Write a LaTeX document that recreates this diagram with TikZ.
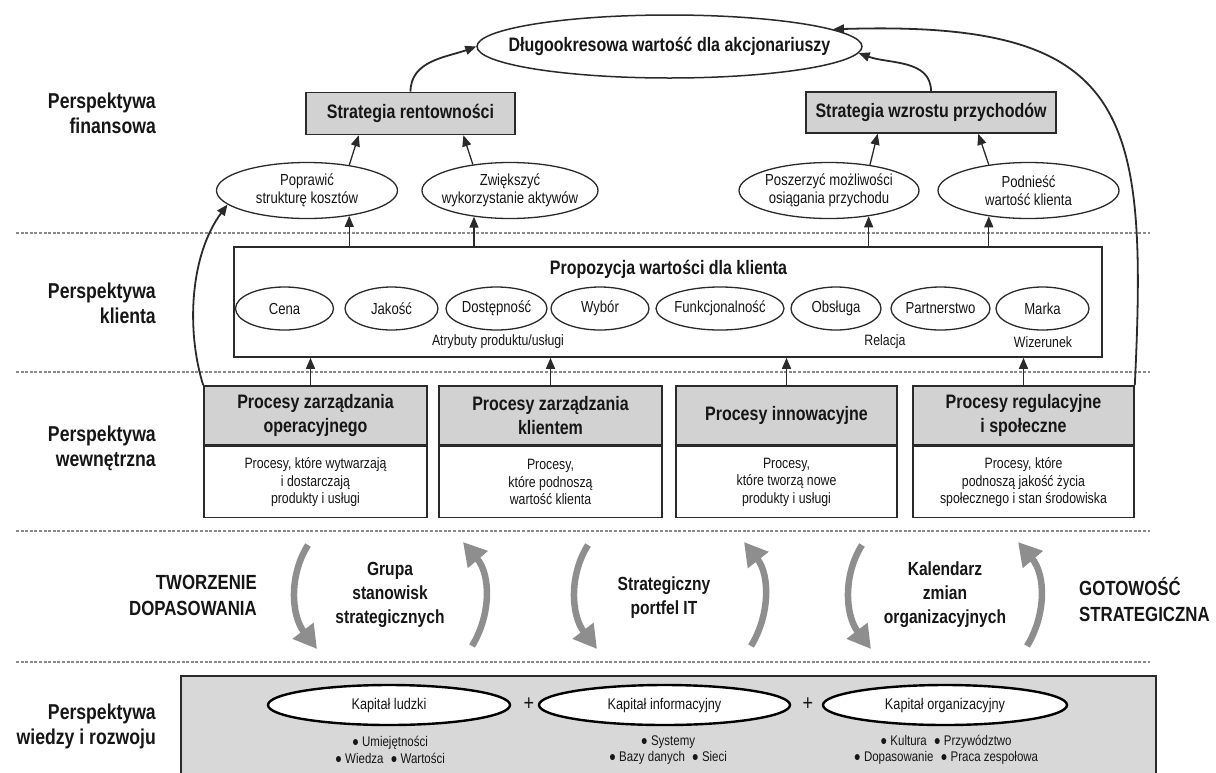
\documentclass[tikz,border=0pt]{standalone}
\usepackage{fontspec}
\setmainfont{Liberation Sans}[FakeStretch=0.82]
\usetikzlibrary{shapes.geometric,arrows.meta,calc}
\definecolor{ink}{HTML}{161616}
\definecolor{edge}{HTML}{2A2A2A}
\definecolor{boxgray}{HTML}{D2D2D2}
\definecolor{basegray}{HTML}{D8D8D8}
\definecolor{flowgray}{HTML}{8E8E8E}
\definecolor{rulegray}{HTML}{8A8A8A}

\begin{document}
\begin{tikzpicture}[x=1pt,y=-1pt, text=ink,
  persp/.style={font=\fontsize{21.5}{25}\selectfont\bfseries, align=right, anchor=east, inner sep=0pt},
  phase/.style={font=\fontsize{20.5}{26}\selectfont\bfseries, inner sep=0pt},
  mid/.style={font=\fontsize{19}{24}\selectfont\bfseries, align=center, inner sep=0pt},
  graybox/.style={draw=edge, fill=boxgray, line width=1.6pt, inner sep=0pt,
    font=\fontsize{19.5}{24}\selectfont\bfseries, align=center},
  plainbox/.style={draw=edge, fill=white, line width=1.6pt, inner sep=0pt,
    font=\fontsize{15}{17.5}\selectfont, align=center},
  oval/.style={ellipse, draw=edge, fill=white, line width=1.3pt, inner xsep=-20pt, inner ysep=-6pt,
    font=\fontsize{16}{18}\selectfont, align=center},
  capital/.style={oval, draw=black, line width=2.4pt, minimum height=40pt, font=\fontsize{15.5}{18}\selectfont},
  note/.style={font=\fontsize{15}{17}\selectfont, align=center, inner sep=0pt},
  bullets/.style={font=\fontsize{14}{16.5}\selectfont, align=center, inner sep=0pt},
  con/.style={draw=edge, line width=1.3pt, -{Triangle[length=11pt,width=9pt]}},
  link/.style={con, line width=1.8pt},
  divider/.style={draw=rulegray, line width=1.3pt, dash pattern=on 3pt off 1.6pt},
  flow/.style={draw=flowgray, line width=6.5pt, -{Triangle[length=23pt,width=25pt]}},
]
\path[use as bounding box, clip] (0,0) rectangle (1216,772);
\fill[white] (0,0) rectangle (1216,772);

% perspective separators
\foreach \yy in {233,372,531,662}
  \draw[divider] (16,\yy) -- (1150,\yy);

% left-hand perspective names
\node[persp] (pfin) at (156,113) {Perspektywa\\finansowa};
\node[persp] (pkl)  at (156,303) {Perspektywa\\klienta};
\node[persp] (pwew) at (156,448) {Perspektywa\\wewnętrzna};
\node[persp] (pwr)  at (156,726) {Perspektywa\\wiedzy i rozwoju};

% financial perspective
\node[oval, inner xsep=-30pt, font=\fontsize{19.5}{22}\selectfont\bfseries,
      minimum width=385pt, minimum height=63pt, line width=1.5pt] (dl) at (669.5,46.5)
      {Długookresowa wartość dla akcjonariuszy};
\node[graybox, minimum width=209pt, minimum height=42pt] (rent) at (410.5,113.5) {Strategia rentowności};
\node[graybox, minimum width=250pt, minimum height=41pt] (rzw) at (931,112.5) {Strategia wzrostu przychodów};

\node[oval, minimum width=181pt, minimum height=56pt] (pop)  at (307,190.5)  {Poprawić\\strukturę kosztów};
\node[oval, minimum width=176pt, minimum height=56pt] (zw)   at (510,190.5)  {Zwiększyć\\wykorzystanie aktywów};
\node[oval, minimum width=180pt, minimum height=56pt] (posz) at (829,190.5)  {Poszerzyć możliwości\\osiągania przychodu};
\node[oval, minimum width=181pt, minimum height=56pt] (podn) at (1028.5,190.5) {Podnieść\\wartość klienta};

% customer perspective
\node[draw=edge, line width=1.6pt, minimum width=868pt, minimum height=110pt, inner sep=0pt] (prop) at (668,302) {};
\node[font=\fontsize{19.5}{22}\selectfont\bfseries, inner sep=0pt] (propt) at (668.5,269) {Propozycja wartości dla klienta};
\node[oval, minimum width=98pt,  minimum height=43pt] (cena)  at (284.5,308.5) {Cena};
\node[oval, minimum width=93pt,  minimum height=43pt] (jak)   at (391.5,308.5) {Jakość};
\node[oval, minimum width=101pt, minimum height=43pt] (dost)  at (496.5,308.5) {Dostępność};
\node[oval, minimum width=98pt,  minimum height=43pt] (wyb)   at (600,308.5)   {Wybór};
\node[oval, minimum width=128pt, minimum height=43pt] (funk)  at (720,308.5)   {Funkcjonalność};
\node[oval, minimum width=90pt,  minimum height=43pt] (obs)   at (836,308.5)   {Obsługa};
\node[oval, minimum width=99pt,  minimum height=43pt] (part)  at (940.5,308.5) {Partnerstwo};
\node[oval, minimum width=93pt,  minimum height=43pt] (marka) at (1042.5,308.5) {Marka};
\node[note] (attr) at (498,342)  {Atrybuty produktu/usługi};
\node[note] (rel)  at (885,342)  {Relacja};
\node[note] (wiz)  at (1043,342) {Wizerunek};

% internal perspective
\node[graybox, minimum width=223pt, minimum height=59pt] (oph) at (315.5,415.5) {Procesy zarządzania\\operacyjnego};
\node[plainbox, minimum width=223pt, minimum height=71pt, anchor=north] (opb) at (oph.south)
  {Procesy, które wytwarzają\\i dostarczają\\produkty i usługi};
\node[graybox, minimum width=223pt, minimum height=59pt] (klh) at (550.5,415.5) {Procesy zarządzania\\klientem};
\node[plainbox, minimum width=223pt, minimum height=71pt, anchor=north] (klb) at (klh.south)
  {Procesy,\\które podnoszą\\wartość klienta};
\node[graybox, minimum width=221pt, minimum height=59pt] (inh) at (786.5,415.5) {Procesy innowacyjne};
\node[plainbox, minimum width=221pt, minimum height=71pt, anchor=north] (inb) at (inh.south)
  {Procesy,\\które tworzą nowe\\produkty i usługi};
\node[graybox, minimum width=221pt, minimum height=59pt] (rwh) at (1023.5,415.5) {Procesy regulacyjne\\i społeczne};
\node[plainbox, minimum width=221pt, minimum height=71pt, anchor=north] (rwb) at (rwh.south)
  {Procesy, które\\podnoszą jakość życia\\społecznego i stan środowiska};

% alignment band
\node[phase, align=right, anchor=east] (tworz) at (257,595) {TWORZENIE\\DOPASOWANIA};
\node[phase, align=left, anchor=west] (gotow) at (1079,600) {GOTOWOŚĆ\\STRATEGICZNA};
\node[mid] (grupa) at (390,595) {Grupa\\stanowisk\\strategicznych};
\node[mid] (portf) at (664,598) {Strategiczny\\portfel IT};
\node[mid] (kalen) at (945,595) {Kalendarz\\zmian\\organizacyjnych};

\draw[flow] (308,545) .. controls (289,575) and (291,615) .. (317,649);
\draw[flow] (472,646) .. controls (491,615) and (491,575) .. (463,542);
\draw[flow] (588,545) .. controls (569,575) and (571,615) .. (597,649);
\draw[flow] (751,646) .. controls (770,615) and (770,575) .. (744,542);
\draw[flow] (862,545) .. controls (843,575) and (845,615) .. (871,649);
\draw[flow] (1027,646) .. controls (1046,615) and (1046,575) .. (1018,542);

% learning and growth perspective
\node[draw=edge, fill=basegray, line width=1.6pt, minimum width=975pt, minimum height=120pt,
      anchor=north west, inner sep=0pt] (base) at (180,675) {};
\node[capital, minimum width=242pt] (kl) at (389,705)   {Kapitał ludzki};
\node[capital, minimum width=251pt] (ki) at (664.5,705) {Kapitał informacyjny};
\node[capital, minimum width=244pt] (ko) at (945,705)   {Kapitał organizacyjny};
\node[font=\fontsize{22}{22}\selectfont, inner sep=0pt] (plusa) at (529,704) {+};
\node[font=\fontsize{22}{22}\selectfont, inner sep=0pt] (plusb) at (808,704) {+};
\node[bullets] (klist) at (390,750) {● Umiejętności\\● Wiedza\enspace ● Wartości};
\node[bullets] (ilist) at (668,750) {● Systemy\\● Bazy danych\enspace ● Sieci};
\node[bullets] (olist) at (946,750) {● Kultura\enspace ● Przywództwo\\● Dopasowanie\enspace ● Praca zespołowa};

% connectors
\draw[con] (pop.31)   -- ($(rent.south west)!0.254!(rent.south east)$);
\draw[con] (zw.145)   -- ($(rent.south west)!0.751!(rent.south east)$);
\draw[con] (posz.32)  -- ($(rzw.south west)!0.288!(rzw.south east)$);
\draw[con] (podn.147) -- ($(rzw.south west)!0.688!(rzw.south east)$);

\draw[con] (prop.north -| pop.-31)  -- (pop.-31);
\draw[con] (prop.north -| zw.216)   -- (zw.216);
\draw[con] (prop.north -| posz.-33) -- (posz.-33);
\draw[con] (prop.north -| podn.213) -- (podn.213);

\draw[con] ($(oph.north)+(-5,0)$) -- ($(oph.north |- prop.south)+(-5,0)$);
\draw[con] (klh.north) -- (klh.north |- prop.south);
\draw[con] (inh.north) -- (inh.north |- prop.south);
\draw[con] (rwh.north) -- (rwh.north |- prop.south);

\draw[link] (rent.north) to[out=90,in=200] (dl.west);
\draw[link] (rzw.north) to[out=90,in=-20] (dl.-2);
\draw[link] (oph.north west) .. controls (186,330) and (190,255) .. (pop.190);
\draw[link] (rwh.north east) .. controls (1148,110) and (1130,20) .. (dl.6);
\end{tikzpicture}
\end{document}
